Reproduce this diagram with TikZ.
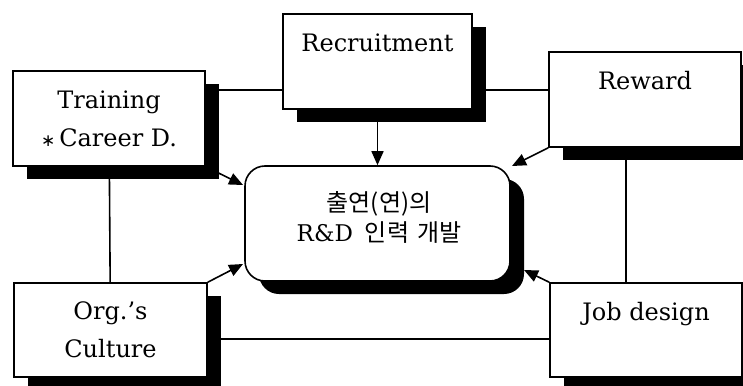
\documentclass[tikz,border=0pt]{standalone}
\usepackage{fontspec}
\setmainfont{DejaVu Serif}
\newfontfamily\krfont{Noto Sans CJK KR}
\newfontfamily\symfont{DejaVu Sans}
\usetikzlibrary{arrows.meta,shadows,calc}

\begin{document}
\begin{tikzpicture}[x=1pt,y=-1pt,
  heavyshadow/.style={drop shadow={shadow xshift=14pt,shadow yshift=-13pt,fill=black,opacity=1}},
  factor/.style={draw,line width=1.6pt,fill=white,inner sep=0pt,
    minimum width=192pt,minimum height=95pt,align=center,
    font=\fontsize{24}{38}\selectfont,heavyshadow},
  core/.style={draw,line width=1.6pt,fill=white,inner sep=0pt,
    rounded corners=20pt,minimum width=265pt,minimum height=115pt,heavyshadow},
  link/.style={line width=1.6pt},
  feed/.style={line width=1.6pt,-{Triangle[length=14pt,width=12pt]}}]

\clip (0,0) rectangle (743,385);
\useasboundingbox (0,0) rectangle (743,385);

% connector levels
\coordinate (topline) at (0,90);
\coordinate (botline) at (0,339);

% box centres
\path (377.5,61.5) coordinate (pr) (109,118.5) coordinate (pt)
      (645,99.5) coordinate (pw) (110.5,330) coordinate (po)
      (646,330) coordinate (pj);

% lines running behind the boxes
\draw[link] (pt |- topline) -- (pw |- topline);
\draw[link] (po |- botline) -- (pj |- botline);
\draw[link] (pt) -- (po);
\draw[link] ([xshift=-19pt]pw) -- ([xshift=-20pt]pj);

% central outcome
\node[core] (hrd) at (377.5,223.5) {};
\node[font=\krfont\fontsize{24}{34}\selectfont,align=center] (hrdtext) at (379,217)
  {출연(연)의\\[-4pt]{\rmfamily\fontsize{23}{34}\selectfont R\&D}\hspace{12pt}인력\hspace{8pt}개발};

% HR factors
\node[factor,minimum width=189pt] (recruit) at (pr) {Recruitment\\\mbox{}};
\node[factor] (train) at (pt) {Training\\{\symfont\fontsize{17}{17}\selectfont ∗}\,Career D.};
\node[factor] (reward) at (pw) {Reward\\\mbox{}};
\node[factor,minimum width=193pt,minimum height=94pt] (culture) at (po) {Org.'s\\Culture};
\node[factor,minimum height=94pt] (job) at (pj) {Job design\\\mbox{}};

% influences on the centre
\draw[feed] (recruit.south) -- (hrd.north);
\draw[feed] (train.south east) -- (243,185);
\draw[feed] (culture.north east) -- (243,264);
\draw[feed] (reward.south west) -- (512,166);
\draw[feed] (job.north west) -- (524,270);
\end{tikzpicture}
\end{document}
